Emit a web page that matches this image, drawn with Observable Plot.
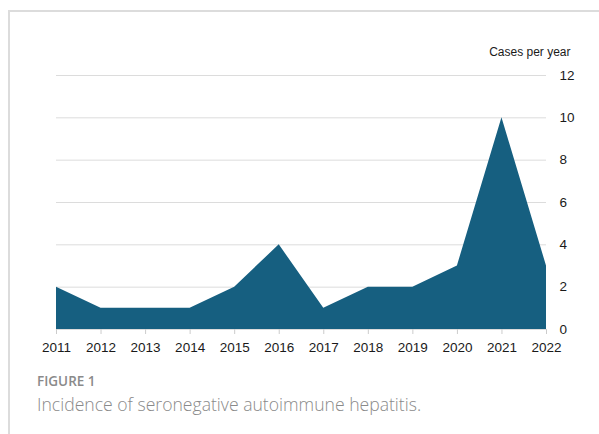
<!DOCTYPE html>
<html>
<head>
<meta charset="utf-8">
<script src="https://cdn.jsdelivr.net/npm/d3@7"></script>
<script src="https://cdn.jsdelivr.net/npm/@observablehq/plot@0.6"></script>
<style>
  html, body { margin: 0; padding: 0; background: #fff; }
  #wrap { position: relative; width: 599px; height: 434px; overflow: hidden; }
  #frame { position: absolute; left: 8px; top: 10px; width: 600px; height: 430px;
           border-left: 2px solid #dcdcdc; border-top: 2px solid #dcdcdc; }
  #chart { position: absolute; left: 0; top: 0; }
  #fig { position: absolute; left: 37px; top: 372px; font-family: "Open Sans", sans-serif;
         font-weight: 600; font-size: 13.5px; color: #8a8a8a; }
  #cap { position: absolute; left: 37px; top: 392px; font-family: "Open Sans", sans-serif;
         font-weight: 300; font-size: 17.6px; color: #8a8a8a; white-space: nowrap; }
</style>
</head>
<body>
<div id="wrap">
  <div id="frame"></div>
  <div id="chart"></div>
  <div id="fig">FIGURE 1</div>
  <div id="cap">Incidence of seronegative autoimmune hepatitis.</div>
</div>
<script>
const years = [2011, 2012, 2013, 2014, 2015, 2016, 2017, 2018, 2019, 2020, 2021, 2022];
const cases = [2, 1, 1, 1, 2, 4, 1, 2, 2, 3, 10, 3];
const yTicks = [0, 2, 4, 6, 8, 10, 12];
const yLabel = "Cases per year";

const data = years.map((y, i) => ({year: y, cases: cases[i]}));

const chart = Plot.plot({
  width: 599,
  height: 360,
  marginLeft: 56,
  marginRight: 53,
  marginTop: 75,
  marginBottom: 31,
  style: {fontFamily: "'Liberation Sans', Arial, sans-serif", fontSize: "13px", color: "#1a1a1a", background: "transparent"},
  x: {domain: [2011, 2022], ticks: years, tickFormat: d3.format("d"), label: null},
  y: {domain: [0, 12], ticks: yTicks, label: null},
  marks: [
    Plot.gridY(yTicks.filter(d => d > 0), {stroke: "#dcdcdc", strokeOpacity: 1}),
    Plot.areaY(data, {x: "year", y: "cases", fill: "#165f80"}),
    Plot.ruleY([0], {stroke: "#dcdcdc"}),
    Plot.axisX({ticks: years, tickFormat: d3.format("d"), tickSize: 5, tickPadding: 8, stroke: "#cccccc", fill: "#1a1a1a", fontSize: 13.5, label: null}),
    Plot.axisY({anchor: "right", ticks: yTicks, tickSize: 0, tickPadding: 13, fill: "#1a1a1a", fontSize: 13.5, label: null}),
    Plot.text([yLabel], {frameAnchor: "top-right", dx: 24, dy: -28, textAnchor: "end", fontSize: 12, fill: "#1a1a1a"})
  ]
});
document.getElementById("chart").appendChild(chart);
</script>
</body>
</html>
